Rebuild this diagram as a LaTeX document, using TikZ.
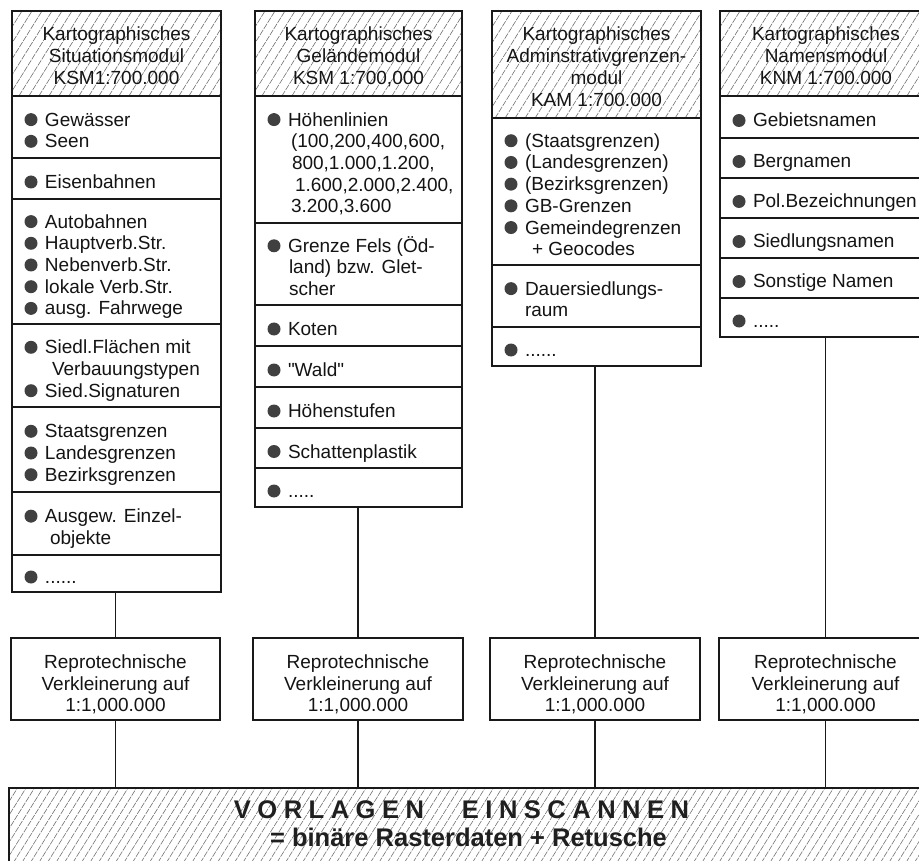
\documentclass[tikz,border=0pt]{standalone}
\usepackage{fontspec}
\setmainfont{Liberation Sans}

\tikzset{
  frame/.style={draw=black!90, line width=1.6pt, inner sep=0pt, outer sep=0pt},
  link/.style={draw=black!90, line width=1.6pt},
  hatchline/.style={draw=black!55, line width=0.6pt, dash pattern=on 6pt off 1.2pt},
  txt/.style={font=\fontsize{19}{21.7}\selectfont, text=black!92, inner sep=0pt, outer sep=0pt},
  bul/.style={fill=black!75},
  bigtxt/.style={font=\fontsize{25.5}{30}\selectfont\bfseries, text=black!88, inner sep=0pt, outer sep=0pt},
}

% diagonal hatching of a rectangle: left, top, right, bottom, spacing
\newcommand\hatcharea[5]{%
  \begin{scope}
    \clip (#1,#2) rectangle (#3,#4);
    \pgfmathsetmacro\hatchh{#4-#2}
    \pgfmathsetmacro\hatchdx{\hatchh/tan(58)}
    \pgfmathtruncatemacro\hatchn{(#3-#1+\hatchdx)/#5+1}
    \foreach \hi in {0,...,\hatchn}{
      \pgfmathsetmacro\hx{#1-\hatchdx+\hi*#5}
      \draw[hatchline] (\hx,#4) -- ++(\hatchdx,-\hatchh);
    }
  \end{scope}}

% list section: name, left, right, top, bottom, number of lines, lines (indent/text)
\newcommand\sect[7]{%
  \node[frame, minimum width={#3-#2}, minimum height={#5-#4}] (#1) at ({(#2+#3)/2},{(#4+#5)/2}) {};
  \pgfmathsetmacro\bfirst{(#4+#5)/2+10-(#6-1)*21.7/2}
  \foreach \indt/\linetxt [count=\li from 0] in {#7}{
    \pgfmathsetmacro\yb{\bfirst+\li*21.7}
    \ifnum\indt<0
      \fill[bul] ({#2+19},{\yb-6.5}) circle[radius=6.5pt];
      \node[txt, anchor=base west] (#1-\li) at ({#2+33},\yb) {\linetxt};
    \else
      \node[txt, anchor=base west] (#1-\li) at ({#2+33+\indt},\yb) {\linetxt};
    \fi
  }}

% hatched module title: name, left, right, top, bottom, number of lines, lines
\newcommand\headbox[7]{%
  \hatcharea{#2}{#4}{#3}{#5}{10}
  \node[frame, minimum width={#3-#2}, minimum height={#5-#4}] (#1) at ({(#2+#3)/2},{(#4+#5)/2}) {};
  \pgfmathsetmacro\bfirst{(#4+#5)/2+9-(#6-1)*22/2}
  \foreach \linetxt [count=\li from 0] in {#7}{
    \node[txt, anchor=base] (#1-\li) at ({(#2+#3)/2},{\bfirst+\li*22}) {\linetxt};
  }}

% reduction step box: name, left, right
\newcommand\reprobox[3]{%
  \node[frame, minimum width={#3-#2}, minimum height=82] (#1) at ({(#2+#3)/2},679) {};
  \foreach \linetxt [count=\li from 0] in {Reprotechnische, Verkleinerung auf, {1:1,000.000}}{
    \node[txt, anchor=base] (#1-\li) at ({(#2+#3)/2},{668.3+\li*21.7}) {\linetxt};
  }}

\newcommand\lsp{\kern6.5pt}
\newcommand\sixdots{......}
\newcommand\fivedots{.....}

\begin{document}
\begin{tikzpicture}[x=1pt, y=-1pt]
\useasboundingbox (0,0) rectangle (919,861);
\clip (0,0) rectangle (919,861);
\fill[white] (0,0) rectangle (919,861);

% situation module
\headbox{h1}{12}{221}{11}{96}{3}{Kartographisches, Situationsmodul, KSM1:700.000}
\sect{c1a}{12}{221}{96}{158}{2}{-1/Gewässer, -1/Seen}
\sect{c1b}{12}{221}{158}{199}{1}{-1/Eisenbahnen}
\sect{c1c}{12}{221}{199}{324}{5}{-1/Autobahnen, -1/Hauptverb.Str., -1/Nebenverb.Str., -1/lokale Verb.Str., -1/ausg. Fahrwege}
\sect{c1d}{12}{221}{324}{407}{3}{-1/Siedl.Flächen mit, 7/Verbauungstypen, -1/Sied.Signaturen}
\sect{c1e}{12}{221}{407}{492}{3}{-1/Staatsgrenzen, -1/Landesgrenzen, -1/Bezirksgrenzen}
\sect{c1f}{12}{221}{492}{555}{2}{-1/Ausgew. Einzel-, 5/objekte}
\sect{c1g}{12}{221}{555}{592}{1}{-1/\sixdots}

% terrain module
\headbox{h2}{255}{462}{11}{96}{3}{Kartographisches, Geländemodul, {KSM 1:700,000}}
\sect{c2a}{255}{462}{96}{223}{5}{-1/Höhenlinien, 3/{(100,200,400,600,}, 4/{800,1.000,1.200,}, 7/{1.600,2.000,2.400,}, 3/{3.200,3.600}}
\sect{c2b}{255}{462}{223}{305}{3}{-1/Grenze Fels (Öd-, 1/land) bzw. Glet-, 1/scher}
\sect{c2c}{255}{462}{305}{346}{1}{-1/Koten}
\sect{c2d}{255}{462}{346}{387}{1}{-1/\textquotedbl Wald\textquotedbl}
\sect{c2e}{255}{462}{387}{428}{1}{-1/Höhenstufen}
\sect{c2f}{255}{462}{428}{468}{1}{-1/Schattenplastik}
\sect{c2g}{255}{462}{468}{507}{1}{-1/\fivedots}

% administrative boundaries module
\headbox{h3}{492}{701}{11}{118}{4}{Kartographisches, Adminstrativgrenzen-, modul, KAM 1:700.000}
\sect{c3a}{492}{701}{118}{265}{6}{-1/(Staatsgrenzen), -1/(Landesgrenzen), -1/(Bezirksgrenzen), -1/GB-Grenzen, -1/Gemeindegrenzen, 7/+ Geocodes}
\sect{c3b}{492}{701}{265}{327}{2}{-1/Dauersiedlungs-, 0/raum}
\sect{c3c}{492}{701}{327}{366}{1}{-1/\sixdots}

% names module
\headbox{h4}{720}{932}{11}{96}{3}{Kartographisches, Namensmodul, KNM 1:700.000}
\sect{c4a}{720}{932}{96}{138}{1}{-1/Gebietsnamen}
\sect{c4b}{720}{932}{138}{178}{1}{-1/Bergnamen}
\sect{c4c}{720}{932}{178}{218}{1}{-1/Pol.Bezeichnungen}
\sect{c4d}{720}{932}{218}{258}{1}{-1/Siedlungsnamen}
\sect{c4e}{720}{932}{258}{298}{1}{-1/Sonstige Namen}
\sect{c4f}{720}{932}{298}{337}{1}{-1/\fivedots}

% reduction steps
\reprobox{r1}{11}{220}
\reprobox{r2}{253}{463}
\reprobox{r3}{490}{700}
\reprobox{r4}{719}{932}

% scanning
\hatcharea{9}{788}{935}{875}{8.5}
\node[frame, minimum width=926, minimum height=87] (scan) at (472,831.5) {};
\node[bigtxt, anchor=base] (scan-t1) at (461.5,818)
  {V\lsp O\lsp R\lsp L\lsp A\lsp G\lsp E\lsp N\hspace{38pt}E\lsp I\lsp N\lsp S\lsp C\lsp A\lsp N\lsp N\lsp E\lsp N};
\node[bigtxt, anchor=base] (scan-t2) at (468.5,846) {= binäre Rasterdaten + Retusche};

% connectors
\draw[link] (c1g.south -| r1.north) -- (r1.north);
\draw[link] (c2g.south -| r2.north) -- (r2.north);
\draw[link] (c3c.south -| r3.north) -- (r3.north);
\draw[link] (c4f.south -| r4.north) -- (r4.north);
\foreach \r in {r1,r2,r3,r4}{
  \draw[link] (\r.south) -- (\r.south |- scan.north);
}
\end{tikzpicture}
\end{document}
